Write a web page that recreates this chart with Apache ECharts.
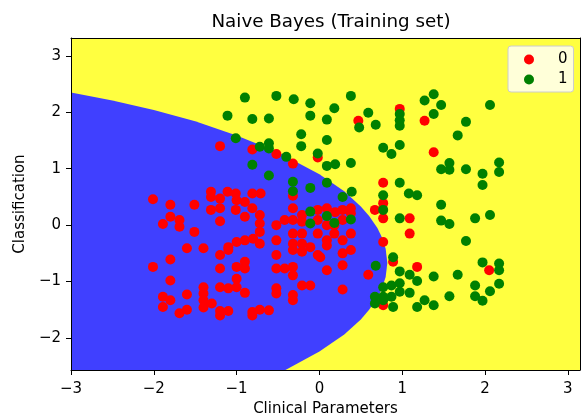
<!DOCTYPE html>
<html>
<head>
<meta charset="utf-8">
<script src="https://cdn.jsdelivr.net/npm/echarts@6/dist/echarts.min.js"></script>
<style>
  html, body { margin: 0; padding: 0; background: #fff; }
  #main { width: 586px; height: 417px; }
</style>
</head>
<body>
<div id="main"></div>
<script>
// axis ticks
const xTicks = [-3, -2, -1, 0, 1, 2, 3];
const yTicks = [-2, -1, 0, 1, 2, 3];

// class 0 (red)
const class0X = [-1.20, -0.81, -0.52, -0.32, -0.02, 0.47, 0.97, 1.27, 1.38, 0.77,
  -0.32, 0.77, 0.67, 0.77, 1.09, 1.09, 0.77, 0.89, 1.18, 2.05,
  0.59, 0.77, -2.01, -1.80, -1.51, -1.31, -1.31, -1.20, -1.11, -1.01,
  -1.00, -0.81, -0.71, -0.90, -1.31, -1.20, -1.01, -0.81, -1.80, -1.69,
  -1.89, -1.69, -1.51, -1.20, -0.90, -0.72, -0.72, -0.72, -1.10, -1.00,
  -0.90, -0.80, -1.20, -1.10, -0.72, -1.60, -1.40, -1.80, -2.01, -1.20,
  -1.00, -0.90, -0.90, -1.80, -1.00, -1.20, -1.10, -1.00, -0.90, -1.40,
  -1.40, -1.40, -1.40, -1.30, -1.60, -1.89, -1.89, -1.80, -1.69, -1.60,
  -1.20, -1.20, -1.10, -0.81, -0.81, -0.72, -0.61, -0.32, -0.21, -0.02,
  0.09, 0.28, 0.38, -0.52, -0.42, -0.32, -0.21, -0.02, 0.28, 0.38,
  -0.32, -0.21, -0.02, 0.09, 0.18, 0.28, 0.38, -0.52, -0.32, -0.32,
  -0.21, -0.21, -0.11, -0.02, 0.09, 0.28, 0.38, -0.52, -0.52, -0.42,
  -0.32, -0.32, 0.09, 0.28, -0.21, -0.11, -0.52, -0.52, -0.32, -0.32,
  0.28, 0.19, 0.09, 0.18, 0.01];
const class0Y = [1.40, 1.34, 1.26, 1.09, 1.20, 1.85, 2.06, 1.85, 1.29, 0.75,
  0.52, 0.39, 0.27, 0.12, 0.12, -0.15, -0.30, -0.65, -0.74, -0.80,
  -0.88, -1.42, 0.46, 0.36, 0.36, 0.59, 0.50, 0.47, 0.59, 0.56,
  0.44, 0.56, 0.56, 0.41, 0.27, 0.30, 0.27, 0.30, 0.15, 0.09,
  0.02, -0.03, -0.12, 0.07, 0.15, 0.18, 0.03, -0.12, -0.39, -0.30,
  -0.27, -0.24, -0.53, -0.44, -0.33, -0.41, -0.41, -0.61, -0.74, -0.77,
  -0.74, -0.65, -0.77, -0.98, -0.95, -1.10, -1.12, -1.10, -1.20, -1.10,
  -1.21, -1.33, -1.46, -1.39, -1.23, -1.27, -1.45, -1.33, -1.56, -1.50,
  -1.52, -1.60, -1.52, -1.54, -1.60, -1.50, -1.51, 0.30, 0.18, 0.27,
  0.30, 0.27, 0.30, 0.00, 0.09, 0.09, 0.06, 0.09, 0.09, 0.21,
  -0.15, -0.15, -0.15, -0.27, -0.15, -0.27, -0.15, -0.27, -0.33, -0.44,
  -0.33, -0.47, -0.39, -0.53, -0.36, -0.50, -0.44, -0.53, -0.77, -0.77,
  -0.74, -0.89, -0.80, -0.71, -1.07, -1.07, -1.12, -1.21, -1.24, -1.33,
  -1.14, 0.23, 0.00, 0.00, -0.57];

// class 1 (green)
const class1X = [-0.90, -1.11, -0.81, -0.61, -1.01, -0.72, -0.61, -0.61, -0.81, -0.61,
  -0.52, -0.31, -0.11, -0.11, 0.18, 0.38, 0.59, 0.48, 0.68, 0.09,
  -0.22, -0.22, 0.09, -0.40, -0.02, 0.09, 0.19, 0.38, 0.77, 0.87,
  -0.32, -0.32, -0.11, 0.09, 0.28, 0.39, 0.77, 1.27, 1.38, 1.47,
  1.38, 0.97, 0.97, 0.97, 2.06, 1.77, 1.67, 0.97, 1.57, 1.47,
  1.57, 1.77, 1.97, 1.97, 2.17, 2.17, 0.97, 1.08, 1.18, 1.47,
  -0.11, -0.11, 0.09, 0.18, 0.38, 0.77, 0.97, 1.47, 1.57, 1.88,
  2.06, 1.77, 0.89, 0.68, 0.97, 1.09, 1.18, 1.38, 1.67, 1.97,
  2.17, 2.17, 2.17, 2.06, 1.88, 1.88, 1.97, 1.57, 1.38, 1.27,
  1.18, 1.09, 0.77, 0.87, 0.97, 0.67, 0.77, 0.87, 0.97, 0.67,
  0.77, 0.89];
const class1Y = [2.26, 1.94, 1.88, 1.89, 1.54, 1.39, 1.45, 1.36, 1.07, 0.88,
  2.29, 2.23, 2.16, 1.94, 2.07, 2.29, 1.99, 1.73, 1.78, 1.87,
  1.61, 1.40, 1.51, 1.21, 1.27, 1.05, 1.08, 1.10, 1.37, 1.26,
  0.77, 0.60, 0.66, 0.75, 0.50, 0.59, 0.53, 2.21, 2.32, 2.13,
  1.97, 1.97, 1.86, 1.76, 2.13, 1.83, 1.59, 1.42, 1.10, 0.99,
  0.98, 0.99, 0.91, 0.71, 1.11, 0.94, 0.75, 0.56, 0.53, 0.36,
  0.24, 0.03, 0.16, 0.04, 0.10, 0.27, 0.12, 0.08, 0.02, 0.12,
  0.18, -0.28, -0.57, -0.72, -0.82, -0.88, -0.99, -0.91, -0.88, -0.66,
  -0.68, -0.80, -1.04, -1.17, -1.07, -1.26, -1.34, -1.26, -1.42, -1.33,
  -1.45, -1.20, -1.10, -1.07, -1.03, -1.27, -1.27, -1.27, -1.18, -1.39,
  -1.33, -1.45];

// decision boundary of the class 0 region
const boundaryX = [-3, -2.5, -2, -1.5, -1, -0.5, 0, 0.3, 0.5, 0.6, 0.7, 0.75, 0.8, 0.82,
  0.8, 0.75, 0.7, 0.6, 0.5, 0.3, 0, -0.41, -3];
const boundaryY = [2.35, 2.21, 2.04, 1.84, 1.59, 1.29, 0.90, 0.60, 0.33, 0.16, -0.05, -0.20, -0.42, -0.67,
  -0.92, -1.14, -1.29, -1.50, -1.67, -1.94, -2.24, -2.567, -2.567];

const X_MIN = -3, X_MAX = 3.147, Y_MIN = -2.567, Y_MAX = 3.316;

function zip(xs, ys) {
  return xs.map(function (x, i) { return [x, ys[i]]; });
}
function fmt(v) {
  return String(v).replace('-', '\u2212');
}

var chartDom = document.getElementById('main');
var myChart = echarts.init(chartDom, null, { renderer: 'canvas' });

const font = 'DejaVu Sans';
const edgeAxis = {
  type: 'value',
  axisLine: { show: true, onZero: false, lineStyle: { color: '#000', width: 1 } },
  axisTick: { show: false },
  axisLabel: { show: false },
  splitLine: { show: false },
  z: 10
};

var option = {
  animation: false,
  backgroundColor: '#fff',
  textStyle: { fontFamily: font },
  title: {
    text: 'Naive Bayes (Training set)',
    left: 326,
    top: 8,
    textAlign: 'center',
    textStyle: { fontFamily: font, fontSize: 18.3, fontWeight: 'normal', color: '#000' }
  },
  grid: {
    left: 71,
    right: 6,
    top: 38,
    bottom: 47,
    show: true,
    containLabel: false,
    outerBoundsMode: 'none',
    backgroundColor: '#ffff40',
    borderWidth: 0
  },
  legend: {
    data: ['0', '1'],
    orient: 'vertical',
    left: 508,
    top: 46,
    padding: [6, 6, 5, 16],
    itemGap: 5,
    itemWidth: 10,
    itemHeight: 10,
    icon: 'circle',
    backgroundColor: '#ffffd9',
    borderColor: '#cccccc',
    borderWidth: 1,
    borderRadius: 3,
    textStyle: { fontFamily: font, fontSize: 15, color: '#000', padding: [0, 0, 0, 19] }
  },
  xAxis: [{
    type: 'value',
    min: X_MIN,
    max: X_MAX,
    name: 'Clinical Parameters',
    nameLocation: 'middle',
    nameGap: 32,
    nameTextStyle: { fontFamily: font, fontSize: 15, color: '#000' },
    axisLine: { show: true, onZero: false, lineStyle: { color: '#000', width: 1 } },
    axisTick: { show: true, length: 5, lineStyle: { color: '#000' }, customValues: xTicks },
    axisLabel: {
      fontFamily: font, fontSize: 15, color: '#000', margin: 12,
      customValues: xTicks, formatter: fmt
    },
    splitLine: { show: false },
    z: 10
  }, Object.assign({}, edgeAxis, { position: 'top', min: X_MIN, max: X_MAX })],
  yAxis: [{
    type: 'value',
    min: Y_MIN,
    max: Y_MAX,
    name: 'Classification',
    nameLocation: 'middle',
    nameGap: 40,
    nameTextStyle: { fontFamily: font, fontSize: 15, color: '#000' },
    axisLine: { show: true, onZero: false, lineStyle: { color: '#000', width: 1 } },
    axisTick: { show: true, length: 5, lineStyle: { color: '#000' }, customValues: yTicks },
    axisLabel: {
      fontFamily: font, fontSize: 15, color: '#000', margin: 10,
      customValues: yTicks, formatter: fmt
    },
    splitLine: { show: false },
    z: 10
  }, Object.assign({}, edgeAxis, { position: 'right', min: Y_MIN, max: Y_MAX })],
  series: [
    {
      type: 'custom',
      silent: true,
      clip: true,
      data: [[0, 0]],
      renderItem: function (params, api) {
        const pts = boundaryX.map(function (x, i) {
          return api.coord([x, boundaryY[i]]);
        });
        return {
          type: 'polygon',
          shape: { points: pts },
          style: { fill: '#4040ff' }
        };
      }
    },
    {
      name: '0',
      type: 'scatter',
      symbolSize: 10,
      itemStyle: { color: '#ff0000', opacity: 1 },
      data: zip(class0X, class0Y)
    },
    {
      name: '1',
      type: 'scatter',
      symbolSize: 10,
      itemStyle: { color: '#008000', opacity: 1 },
      data: zip(class1X, class1Y)
    }
  ]
};

option && myChart.setOption(option);
</script>
</body>
</html>
